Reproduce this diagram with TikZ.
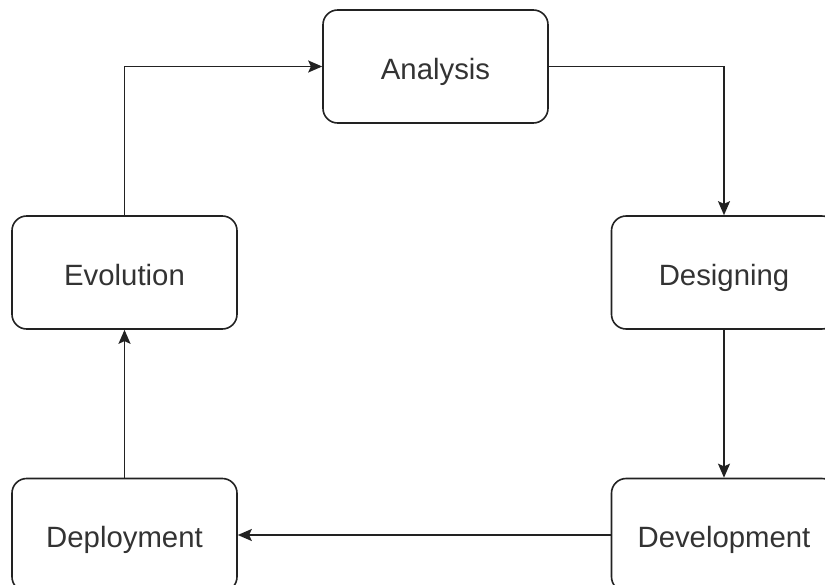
\documentclass[tikz,border=0pt]{standalone}
\usepackage{fontspec}
\setmainfont{Liberation Sans}
\usetikzlibrary{arrows.meta}
\definecolor{ink}{HTML}{222222}
\definecolor{txt}{HTML}{333333}
\begin{document}
\begin{tikzpicture}[x=0.75pt,y=-0.75pt,
  phase/.style={draw=ink, line width=1.2pt, rounded corners=11pt, fill=white,
    minimum width=168.75pt, minimum height=84.75pt, inner sep=0pt,
    text height=18.8pt, text depth=0pt,
    font=\fontsize{22}{26}\selectfont, text=txt},
  flow/.style={draw=ink, line width=1.2pt, -{Stealth[length=10.5pt,width=9pt,inset=2pt]}}]
  \useasboundingbox (0,0) rectangle (825,585);
  \clip (0,0) rectangle (825,585);
  \node[phase] (ana) at (435.5,66.5) {Analysis};
  \node[phase] (des) at (724,272.5) {Designing};
  \node[phase] (dev) at (724,535) {Development};
  \node[phase] (dep) at (124.5,535) {Deployment};
  \node[phase] (evo) at (124.5,272.5) {Evolution};
  \draw[flow] (ana.east) -| (des.north);
  \draw[flow] (des.south) -- (dev.north);
  \draw[flow] (dev.west) -- (dep.east);
  \draw[flow] (dep.north) -- (evo.south);
  \draw[flow] (evo.north) |- (ana.west);
\end{tikzpicture}
\end{document}
